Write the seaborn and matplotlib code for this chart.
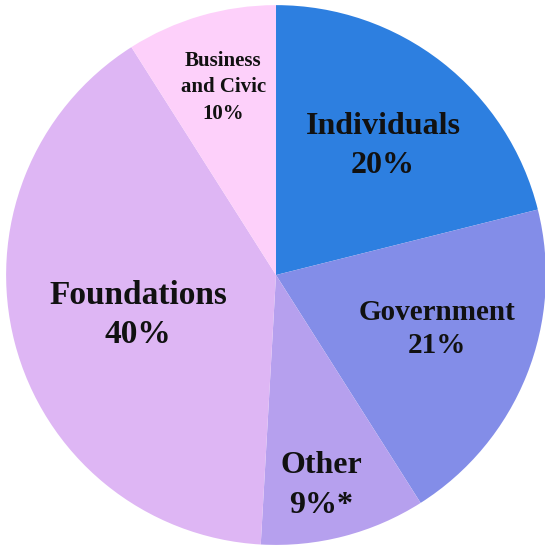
import matplotlib as mpl
mpl.use('Agg')
import matplotlib.pyplot as plt
import seaborn as sns

# slice sizes (clockwise from 12 o'clock)
sources = ['Individuals', 'Government', 'Other', 'Foundations', 'Business and Civic']
shares = [21.1, 19.9, 9.9, 40.1, 9.0]
labels = ['Individuals\n20%', 'Government\n21%', 'Other\n9%*', 'Foundations\n40%', 'Business\nand Civic\n10%']
colors = ['#2d7fe0', '#838de8', '#b6a0ee', '#deb6f4', '#fdd0fa']

# label placement (pie units), font sizes and line spacing
label_pos = [(0.396, 0.477), (0.596, -0.200), (0.167, -0.779), (-0.511, -0.148), (-0.196, 0.695)]
label_size = [23, 21, 23, 24, 15]
label_gap = [1.46, 1.32, 1.48, 1.35, 1.44]

sns.set_theme(style='white')
plt.rcParams['font.family'] = ['Liberation Serif', 'DejaVu Serif']

fig = plt.figure(figsize=(5.45, 5.46), dpi=100)
ax = fig.add_axes([0, 0, 1, 1])

ax.pie(shares, colors=colors, startangle=90, counterclock=False,
       radius=1.0, wedgeprops=dict(linewidth=0))

for txt, (x, y), fs, ls in zip(labels, label_pos, label_size, label_gap):
    ax.text(x, y, txt, ha='center', va='center', fontsize=fs,
            fontweight='bold', color='#111111', linespacing=ls)

ax.set_xlim(-1.022, 0.996)
ax.set_ylim(-1.004, 1.019)
ax.set_aspect('equal')
ax.axis('off')

plt.savefig('out.png', dpi=100, facecolor='white')
